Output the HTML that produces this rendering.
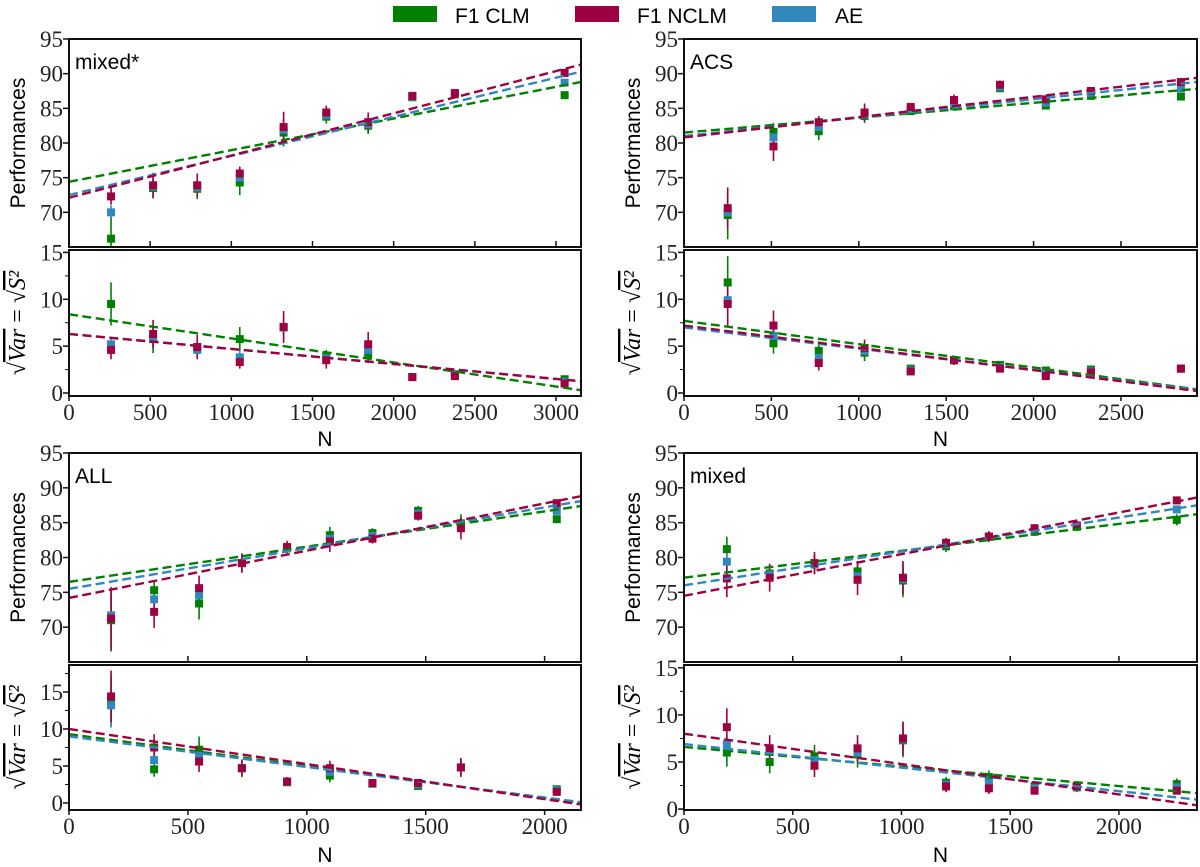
<!DOCTYPE html>
<html><head><meta charset="utf-8"><style>
html,body{margin:0;padding:0;background:#fff;}
svg{display:block;}
.tick{font-family:"Liberation Serif",serif;font-size:23px;fill:#222;}
.lab{font-family:"Liberation Sans",sans-serif;font-size:21px;fill:#000;}
</style></head><body>
<svg id="fig" width="1200" height="867" viewBox="0 0 1200 867" xmlns="http://www.w3.org/2000/svg">
<g>
<rect x="393" y="6" width="44" height="16" fill="#008000"/>
<text class="lab" x="455" y="23">F1 CLM</text>
<rect x="575" y="6" width="44" height="16" fill="#9e0142"/>
<text class="lab" x="637" y="23">F1 NCLM</text>
<rect x="772" y="6" width="44" height="16" fill="#3288bd"/>
<text class="lab" x="835" y="23">AE</text>
</g>
</svg>
<script>
// ---------- data: mixed* ----------
const ms_N = [259,518,790,1052,1322,1585,1843,2115,2377,3053];
const ms_perf_clm = [66.2,73.5,73.4,74.3,81.5,83.8,82.5,86.6,87.0,86.9];
const ms_perf_nclm = [72.3,73.9,73.9,75.6,82.3,84.4,83.0,86.8,87.2,90.1];
const ms_perf_ae = [70.0,73.7,73.6,75.0,81.9,84.0,82.7,86.7,87.1,88.7];
const ms_perf_err_clm = [4.2,1.5,1.5,1.8,2.0,1.0,1.2,0.3,0.4,0.3];
const ms_perf_err_nclm = [1.2,1.8,1.7,1.0,2.2,1.0,1.4,0.4,0.4,0.3];
const ms_perf_err_ae = [1.0,1.0,1.0,1.0,1.5,0.7,1.0,0.3,0.3,0.3];
const ms_var_clm = [9.5,5.75,4.9,5.75,7.0,4.0,4.1,1.7,2.0,1.47];
const ms_var_nclm = [4.6,6.3,4.9,3.3,7.05,3.5,5.2,1.7,1.8,1.0];
const ms_var_ae = [5.2,5.8,4.6,3.8,7.0,3.7,4.6,1.7,1.9,1.2];
const ms_var_err_clm = [2.3,1.5,0.9,1.3,0.5,0.6,0.9,0.2,0.2,0.2];
const ms_var_err_nclm = [1.0,1.5,1.3,0.7,1.7,0.9,1.3,0.2,0.3,0.2];
const ms_var_err_ae = [0.8,1.0,0.8,0.8,1.0,0.6,0.8,0.2,0.2,0.2];
const ms_perf_fit_intercept = [74.4,72.1,72.5];
const ms_perf_fit_slope = [0.004566,0.00609,0.00564];
const ms_var_fit_intercept = [8.4,6.3,6.3];
const ms_var_fit_slope = [-0.00257,-0.0016,-0.0016];
// ---------- data: ACS ----------
const acs_N = [250,512,771,1033,1297,1545,1808,2070,2328,2843];
const acs_perf_clm = [69.6,81.6,81.7,83.9,84.6,85.3,87.9,85.4,86.8,86.7];
const acs_perf_nclm = [70.6,79.5,83.0,84.4,85.2,86.2,88.4,86.3,87.5,88.8];
const acs_perf_ae = [70.0,80.8,82.3,84.1,84.9,85.7,88.1,85.8,87.1,87.9];
const acs_perf_err_clm = [3.5,1.3,1.3,1.0,0.5,0.6,0.5,0.5,0.4,0.5];
const acs_perf_err_nclm = [3.0,2.1,0.9,1.3,0.5,0.8,0.6,0.5,0.4,0.4];
const acs_perf_err_ae = [2.0,1.0,0.8,0.8,0.4,0.5,0.4,0.4,0.3,0.4];
const acs_var_clm = [11.8,5.3,4.5,4.3,2.6,3.5,3.0,2.4,2.5,2.6];
const acs_var_nclm = [9.5,7.2,3.2,4.8,2.3,3.5,2.6,1.8,2.2,2.6];
const acs_var_ae = [9.9,6.1,3.75,4.5,2.4,3.5,2.8,2.1,2.3,2.6];
const acs_var_err_clm = [2.8,1.1,1.0,0.9,0.4,0.5,0.4,0.4,0.4,0.3];
const acs_var_err_nclm = [2.4,1.6,0.8,0.9,0.3,0.5,0.4,0.3,0.3,0.3];
const acs_var_err_ae = [1.5,0.8,0.6,0.6,0.3,0.4,0.3,0.3,0.3,0.3];
const acs_perf_fit_intercept = [81.5,80.8,81.0];
const acs_perf_fit_slope = [0.00215,0.00293,0.00266];
const acs_var_fit_intercept = [7.7,7.2,7.0];
const acs_var_fit_slope = [-0.00249,-0.00238,-0.00227];
// ---------- data: ALL ----------
const all_N = [177,358,547,727,917,1097,1276,1468,1648,2051];
const all_perf_clm = [71.0,75.3,73.4,79.2,81.3,83.2,83.5,86.7,84.9,85.5];
const all_perf_nclm = [71.25,72.2,75.6,79.2,81.5,82.3,82.7,86.0,84.2,87.8];
const all_perf_ae = [71.7,74.0,74.6,79.2,81.4,82.7,83.1,86.3,84.6,86.7];
const all_perf_err_clm = [4.5,1.3,2.3,1.3,0.6,1.2,0.7,0.7,1.3,0.5];
const all_perf_err_nclm = [4.5,2.3,1.8,1.4,0.9,1.5,0.7,0.7,1.6,0.5];
const all_perf_err_ae = [3.0,1.2,1.2,0.9,0.5,0.9,0.5,0.5,1.0,0.4];
const all_var_clm = [13.8,4.55,7.2,4.7,2.8,3.7,2.6,2.3,4.8,1.85];
const all_var_nclm = [14.4,7.5,5.6,4.7,2.9,4.7,2.7,2.7,4.8,1.5];
const all_var_ae = [13.2,5.8,6.35,4.7,2.85,4.2,2.65,2.5,4.8,1.7];
const all_var_err_clm = [3.5,1.0,1.8,1.2,0.5,0.9,0.5,0.5,1.3,0.3];
const all_var_err_nclm = [3.5,1.8,1.4,1.1,0.6,1.0,0.5,0.5,1.2,0.4];
const all_var_err_ae = [3.0,1.0,1.0,0.8,0.4,0.7,0.4,0.4,0.9,0.3];
const all_perf_fit_intercept = [76.5,74.2,75.5];
const all_perf_fit_slope = [0.00506,0.00678,0.00585];
const all_var_fit_intercept = [9.3,10.0,9.0];
const all_var_fit_slope = [-0.00432,-0.00474,-0.00413];
// ---------- data: mixed ----------
const mx_N = [197,394,600,798,1007,1205,1402,1612,1806,2266];
const mx_perf_clm = [81.2,77.7,79.0,78.0,76.7,81.6,83.0,83.7,84.4,85.4];
const mx_perf_nclm = [77.0,77.1,79.2,76.8,77.1,82.1,83.0,84.2,84.6,88.2];
const mx_perf_ae = [79.4,77.4,79.1,77.3,76.9,81.9,83.0,84.0,84.5,86.9];
const mx_perf_err_clm = [1.8,1.3,1.4,1.5,2.4,0.8,0.8,0.6,0.6,0.8];
const mx_perf_err_nclm = [2.7,2.0,1.6,2.2,2.4,0.7,0.7,0.6,0.6,0.5];
const mx_perf_err_ae = [1.5,1.0,1.0,1.2,1.6,0.5,0.5,0.4,0.4,0.5];
const mx_var_clm = [6.0,5.0,5.6,5.8,7.3,2.8,3.4,2.4,2.3,2.65];
const mx_var_nclm = [8.7,6.45,4.6,6.45,7.5,2.4,2.2,1.95,2.45,1.95];
const mx_var_ae = [6.9,6.1,5.2,6.0,7.4,2.6,2.8,2.2,2.4,2.3];
const mx_var_err_clm = [1.5,1.2,1.2,1.4,1.8,0.6,0.7,0.5,0.5,0.6];
const mx_var_err_nclm = [2.0,1.4,1.2,1.4,1.8,0.6,0.6,0.4,0.4,0.4];
const mx_var_err_ae = [1.0,0.8,0.8,0.9,1.2,0.4,0.4,0.3,0.3,0.4];
const mx_perf_fit_intercept = [77.1,74.5,76.0];
const mx_perf_fit_slope = [0.00386,0.00598,0.00487];
const mx_var_fit_intercept = [6.6,8.0,6.9];
const mx_var_fit_slope = [-0.00208,-0.00322,-0.0025];

const COLORS = ['#008000','#9e0142','#3288bd'];
const SERIES_NAMES = ['f1-clm','f1-nclm','ae'];

const panels = [
 {key:'mixed-star',label:'mixed*',N:ms_N,perf:[ms_perf_clm,ms_perf_nclm,ms_perf_ae],perfErr:[ms_perf_err_clm,ms_perf_err_nclm,ms_perf_err_ae],
  v:[ms_var_clm,ms_var_nclm,ms_var_ae],vErr:[ms_var_err_clm,ms_var_err_nclm,ms_var_err_ae],
  pfi:ms_perf_fit_intercept,pfs:ms_perf_fit_slope,vfi:ms_var_fit_intercept,vfs:ms_var_fit_slope,
  L:69,R:581,pT:39,pB:247,vT:250,vB:396,xmax:3154,vmin:-0.32,vmax:15.26,xticks:[0,500,1000,1500,2000,2500,3000],vticks:[0,5,10,15],nY:446},
 {key:'acs',label:'ACS',N:acs_N,perf:[acs_perf_clm,acs_perf_nclm,acs_perf_ae],perfErr:[acs_perf_err_clm,acs_perf_err_nclm,acs_perf_err_ae],
  v:[acs_var_clm,acs_var_nclm,acs_var_ae],vErr:[acs_var_err_clm,acs_var_err_nclm,acs_var_err_ae],
  pfi:acs_perf_fit_intercept,pfs:acs_perf_fit_slope,vfi:acs_var_fit_intercept,vfs:acs_var_fit_slope,
  L:684,R:1197,pT:39,pB:247,vT:250,vB:396,xmax:2935,vmin:-0.32,vmax:15.26,xticks:[0,500,1000,1500,2000,2500],vticks:[0,5,10,15],nY:446},
 {key:'all',label:'ALL',N:all_N,perf:[all_perf_clm,all_perf_nclm,all_perf_ae],perfErr:[all_perf_err_clm,all_perf_err_nclm,all_perf_err_ae],
  v:[all_var_clm,all_var_nclm,all_var_ae],vErr:[all_var_err_clm,all_var_err_nclm,all_var_err_ae],
  pfi:all_perf_fit_intercept,pfs:all_perf_fit_slope,vfi:all_var_fit_intercept,vfs:all_var_fit_slope,
  L:69,R:581,pT:453,pB:662,vT:665,vB:810,xmax:2153,vmin:-0.95,vmax:18.65,xticks:[0,500,1000,1500,2000],vticks:[0,5,10,15],nY:862},
 {key:'mixed',label:'mixed',N:mx_N,perf:[mx_perf_clm,mx_perf_nclm,mx_perf_ae],perfErr:[mx_perf_err_clm,mx_perf_err_nclm,mx_perf_err_ae],
  v:[mx_var_clm,mx_var_nclm,mx_var_ae],vErr:[mx_var_err_clm,mx_var_err_nclm,mx_var_err_ae],
  pfi:mx_perf_fit_intercept,pfs:mx_perf_fit_slope,vfi:mx_var_fit_intercept,vfs:mx_var_fit_slope,
  L:684,R:1197,pT:453,pB:662,vT:665,vB:810,xmax:2359,vmin:-0.1,vmax:15.3,xticks:[0,500,1000,1500,2000],vticks:[0,5,10,15],nY:862}
];

const NS='http://www.w3.org/2000/svg';
const svg=document.getElementById('fig');
function mk(tag,attrs,parent){const e=document.createElementNS(NS,tag);for(const k in attrs)e.setAttribute(k,attrs[k]);(parent||svg).appendChild(e);return e;}

panels.forEach((p,pi)=>{
  const g=mk('g',{});
  
  
  const xs=v=>p.L+(v/p.xmax)*(p.R-p.L);
  const ys=v=>p.pB-(v-65)/(95-65)*(p.pB-p.pT);
  const vs=v=>p.vB-(v-p.vmin)/(p.vmax-p.vmin)*(p.vB-p.vT);
  const cp1=mk('clipPath',{id:'cp'+pi+'a'},g);mk('rect',{x:p.L,y:p.pT,width:p.R-p.L,height:p.pB-p.pT},cp1);
  const cp2=mk('clipPath',{id:'cp'+pi+'b'},g);mk('rect',{x:p.L,y:p.vT,width:p.R-p.L,height:p.vB-p.vT},cp2);

  function sub(kind,yfun,vals,errs,fi,fs,top,bot){
    const sg=mk('g',{'clip-path':'url(#cp'+pi+(kind==='perf'?'a':'b')+')'},g);
    
    
    [0,2,1].forEach(s=>{
      p.N.forEach((n,i)=>{
        const x=xs(n);
        const eb=mk('line',{x1:x,x2:x,y1:yfun(vals[s][i]-errs[s][i]),y2:yfun(vals[s][i]+errs[s][i]),stroke:COLORS[s],'stroke-width':1.6},sg);
        
        
      });
    });
    [0,2,1].forEach(s=>{
      p.N.forEach((n,i)=>{
        const x=xs(n),y=yfun(vals[s][i]);
        const r=mk('rect',{x:x-4,y:y-4,width:8,height:8,fill:COLORS[s]},sg);
        
        
      });
    });
    [0,2,1].forEach(s=>{
      const l=mk('line',{x1:xs(0),x2:xs(p.xmax),y1:yfun(fi[s]),y2:yfun(fi[s]+fs[s]*p.xmax),stroke:COLORS[s],'stroke-width':2.4,'stroke-dasharray':'9,4.5',fill:'none'},sg);
      
      
    });
    const fr=mk('rect',{x:p.L,y:top,width:p.R-p.L,height:bot-top,fill:'none',stroke:'#111','stroke-width':2},g);
    
    
  }
  sub('perf',ys,p.perf,p.perfErr,p.pfi,p.pfs,p.pT,p.pB);
  sub('var',vs,p.v,p.vErr,p.vfi,p.vfs,p.vT,p.vB);

  [70,75,80,85,90,95].forEach(t=>{
    mk('line',{x1:p.L-6,x2:p.L,y1:ys(t),y2:ys(t),stroke:'#111','stroke-width':1.5},g);
    const tx=mk('text',{class:'tick',x:p.L-6,y:ys(t)+8,'text-anchor':'end'},g);
    tx.textContent=t;
    
    
  });
  for(let t=0;t<=p.vmax;t+=2.5){
    const major=(t%5===0);
    mk('line',{x1:p.L-(major?6:4),x2:p.L,y1:vs(t),y2:vs(t),stroke:'#111','stroke-width':major?1.5:1},g);
    if(major){
      const tx=mk('text',{class:'tick',x:p.L-6,y:vs(t)+8,'text-anchor':'end'},g);
      tx.textContent=t;
      
      
    }
  }
  p.xticks.forEach(t=>{
    const x=xs(t);
    mk('line',{x1:x,x2:x,y1:p.pB-6,y2:p.pB,stroke:'#111','stroke-width':1.5},g);
    mk('line',{x1:x,x2:x,y1:p.vB,y2:p.vB+5,stroke:'#111','stroke-width':1.5},g);
    const tx=mk('text',{class:'tick',x:x,y:p.vB+24,'text-anchor':'middle'},g);
    tx.textContent=t;
    
    
  });
  const nl=mk('text',{class:'lab',x:(p.L+p.R)/2,y:p.nY,'text-anchor':'middle','font-size':'23'},g);
  nl.textContent='N';
  
  
  const pl=mk('text',{class:'lab',x:p.L+6,y:p.pT+30},g);
  pl.textContent=p.label;
  
  
  const yl=mk('text',{class:'lab',transform:'translate('+(p.L-44)+','+((p.pT+p.pB)/2)+') rotate(-90)','text-anchor':'middle'},g);
  yl.textContent='Performances';
  
  
  const vl=mk('text',{transform:'translate('+(p.L-44)+','+((p.vT+p.vB)/2)+') rotate(-90)','text-anchor':'middle','font-family':'Liberation Serif, serif','font-size':'24','fill':'#000'},g);
  
  
  const a=mk('tspan',{},vl);a.textContent='√';
  const b=mk('tspan',{'font-style':'italic','text-decoration':'overline'},vl);b.textContent='Var';
  const c=mk('tspan',{},vl);c.textContent=' = √';
  const d=mk('tspan',{'font-style':'italic','text-decoration':'overline'},vl);d.textContent='S²';
});
</script>
</body></html>
